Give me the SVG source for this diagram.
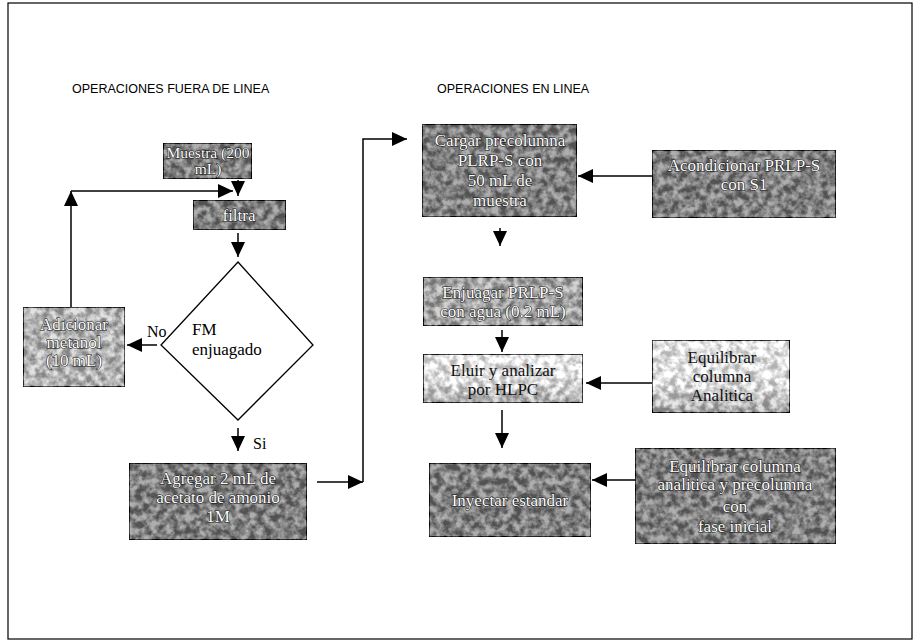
<svg xmlns="http://www.w3.org/2000/svg" width="918" height="643" viewBox="0 0 918 643">
<defs>
<style>
.frame{fill:none;stroke:#000;stroke-width:1.2}
.box{stroke:#000;stroke-width:1.5;filter:url(#tex)}
.dark{fill:#808080}
.mid{fill:#a4a4a4}
.light{fill:#b4b4b4}
.t{font-family:"Liberation Serif","Times New Roman",serif;font-size:17px;text-anchor:middle}
.tw{fill:#fff;stroke:#111;stroke-width:1.1;paint-order:stroke}
.tb{fill:#111}
.lbl{font-family:"Liberation Serif","Times New Roman",serif;font-size:17px;fill:#000}
.hdr{font-family:"Liberation Sans",Arial,sans-serif;font-size:12.5px;fill:#000}
.ln{fill:none;stroke:#000;stroke-width:1.5}
</style>
<filter id="tex" x="0" y="0" width="1" height="1" color-interpolation-filters="sRGB">
<feTurbulence type="fractalNoise" baseFrequency="0.14" numOctaves="3" seed="7" result="n"/>
<feColorMatrix in="n" type="matrix" values="2.5 0 0 0 -0.75  2.5 0 0 0 -0.75  2.5 0 0 0 -0.75  0 0 0 0 1" result="g"/>
<feComposite in="SourceGraphic" in2="g" operator="arithmetic" k1="0" k2="1" k3="0.36" k4="-0.18"/>
</filter>
<marker id="ah" markerUnits="userSpaceOnUse" markerWidth="16" markerHeight="14" refX="15" refY="7" orient="auto">
<path d="M0,0 L15,7 L0,14 Z" fill="#000"/>
</marker>
<linearGradient id="gl" x1="0" y1="0" x2="0" y2="1">
<stop offset="0" stop-color="#e6e6e6"/>
<stop offset="0.6" stop-color="#dcdcdc"/>
<stop offset="1" stop-color="#a8a8a8"/>
</linearGradient>
</defs>
<rect width="918" height="643" fill="#fff"/>
<rect class="frame" x="8" y="3" width="904" height="636"/>
<text class="hdr" x="72" y="93">OPERACIONES FUERA DE LINEA</text>
<text class="hdr" x="437" y="93">OPERACIONES EN LINEA</text>

<g id="muestra">
<rect class="box dark" x="163" y="143" width="89" height="36"/>
<text class="t tw" x="208" y="158" style="font-size:15.5px">Muestra (200</text>
<text class="t tw" x="208" y="174" style="font-size:15.5px">mL)</text>
</g>
<g id="filtra">
<rect class="box dark" x="193" y="200" width="93" height="30"/>
<text class="t tw" x="239" y="221">filtra</text>
</g>
<g id="decision">
<polygon points="238,262 313,345 238,420 161,345" fill="#fff" stroke="#000" stroke-width="1.3"/>
<text class="lbl" x="192" y="335">FM</text>
<text class="lbl" x="192" y="355">enjuagado</text>
</g>
<g id="adicionar">
<rect class="box light" x="23" y="307" width="102" height="80"/>
<text class="t tw" x="74" y="330">Adicionar</text>
<text class="t tw" x="74" y="348">metanol</text>
<text class="t tw" x="74" y="366">(10 mL)</text>
</g>
<g id="agregar">
<rect class="box dark" x="129" y="463" width="178" height="77"/>
<text class="t tw" x="218" y="484">Agregar 2 mL de</text>
<text class="t tw" x="218" y="503">acetato de amonio</text>
<text class="t tw" x="218" y="522">1M</text>
</g>
<g id="cargar">
<rect class="box dark" x="422" y="124" width="155" height="93"/>
<text class="t tw" x="500" y="146">Cargar precolumna</text>
<text class="t tw" x="500" y="166">PLRP-S con</text>
<text class="t tw" x="500" y="186">50 mL de</text>
<text class="t tw" x="500" y="206">muestra</text>
</g>
<g id="acondicionar">
<rect class="box dark" x="652" y="150" width="184" height="68"/>
<text class="t tw" x="744" y="171">Acondicionar PRLP-S</text>
<text class="t tw" x="744" y="190">con S1</text>
</g>
<g id="enjuagar">
<rect class="box mid" x="423" y="277" width="160" height="49"/>
<text class="t tw" x="503" y="298">Enjuagar PRLP-S</text>
<text class="t tw" x="503" y="317">con agua (0.2 mL)</text>
</g>
<g id="eluir">
<rect class="box" fill="url(#gl)" x="423" y="354" width="160" height="49"/>
<text class="t tb" x="503" y="376">Eluir y analizar</text>
<text class="t tb" x="503" y="395">por HLPC</text>
</g>
<g id="equilibrar1">
<rect class="box" fill="url(#gl)" x="652" y="340" width="138" height="73"/>
<text class="t tb" x="722" y="363">Equilibrar</text>
<text class="t tb" x="722" y="382">columna</text>
<text class="t tb" x="722" y="401">Analitica</text>
</g>
<g id="inyectar">
<rect class="box dark" x="429" y="463" width="162" height="74"/>
<text class="t tw" x="510" y="506">Inyectar estandar</text>
</g>
<g id="equilibrar2">
<rect class="box dark" x="635" y="448" width="201" height="96"/>
<text class="t tw" x="735" y="472">Equilibrar columna</text>
<text class="t tw" x="735" y="490">analitica y precolumna</text>
<text class="t tw" x="735" y="512">con</text>
<text class="t tw" x="735" y="532">fase inicial</text>
</g>

<g id="connectors">
<line class="ln" x1="238" y1="180" x2="238" y2="196" marker-end="url(#ah)"/>
<line class="ln" x1="71" y1="307" x2="71" y2="191" marker-end="url(#ah)"/>
<line class="ln" x1="71" y1="191" x2="233" y2="191" marker-end="url(#ah)"/>
<line class="ln" x1="238" y1="233" x2="238" y2="257" marker-end="url(#ah)"/>
<line class="ln" x1="157" y1="345" x2="127" y2="345" marker-end="url(#ah)"/>
<text class="lbl" x="147" y="337" style="font-size:16px">No</text>
<line class="ln" x1="238" y1="428" x2="238" y2="451" marker-end="url(#ah)"/>
<text class="lbl" x="253" y="449" style="font-size:16px">Si</text>
<line class="ln" x1="317" y1="482" x2="363" y2="482" marker-end="url(#ah)"/>
<polyline class="ln" points="363,482 363,139 407,139" marker-end="url(#ah)"/>
<line class="ln" x1="652" y1="176" x2="578" y2="176" marker-end="url(#ah)"/>
<line class="ln" x1="500" y1="228" x2="500" y2="246" marker-end="url(#ah)"/>
<line class="ln" x1="502" y1="330" x2="502" y2="352" marker-end="url(#ah)"/>
<line class="ln" x1="652" y1="383" x2="586" y2="383" marker-end="url(#ah)"/>
<line class="ln" x1="502" y1="410" x2="502" y2="448" marker-end="url(#ah)"/>
<line class="ln" x1="635" y1="480" x2="592" y2="480" marker-end="url(#ah)"/>
</g>
</svg>
